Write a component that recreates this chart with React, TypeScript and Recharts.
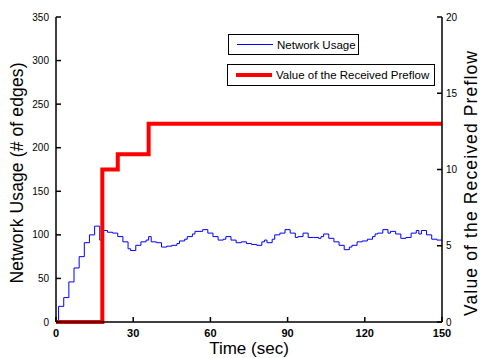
import React from "react";
import {
  LineChart,
  Line,
  XAxis,
  YAxis,
  Legend,
} from "recharts";

// time (sec) and network usage (# of edges), stepped
const usageTimes = [
  0, 1, 3, 5, 7, 9, 11, 13, 15, 17, 18, 20, 22, 24, 26, 28, 29, 31, 33, 35, 36,
  37, 39, 41, 43, 45, 47, 48, 50, 51, 53, 54, 57, 59, 61, 63, 65, 66, 68, 70,
  72, 74, 76, 78, 80, 81, 82, 84, 85, 87, 89, 91, 93, 94, 96, 98, 100, 102,
  103, 104, 106, 108, 110, 112, 114, 115, 117, 119, 121, 123, 124, 125, 127,
  129, 130, 132, 134, 136, 138, 140, 141, 142, 144, 146, 148, 150,
];
const usageValues = [
  0, 18, 28, 46, 62, 75, 91, 100, 110, 94, 105, 103, 102, 98, 92, 84, 82, 88,
  92, 94, 98, 92, 91, 86, 87, 88, 90, 93, 95, 98, 101, 104, 106, 102, 98, 94,
  95, 98, 94, 91, 92, 90, 89, 88, 92, 94, 91, 95, 100, 102, 106, 102, 97, 98,
  102, 97, 97, 96, 98, 101, 96, 92, 88, 83, 86, 88, 92, 93, 95, 98, 101, 102,
  106, 102, 104, 101, 96, 97, 102, 105, 101, 105, 100, 95, 94, 94,
];

// received preflow value
const preflowTimes = [0, 18, 24, 36, 150];
const preflowValues = [0, 10, 11, 13, 13];

const timeTicks = [0, 30, 60, 90, 120, 150];
const usageTicks = [0, 50, 100, 150, 200, 250, 300, 350];
const preflowTicks = [0, 5, 10, 15, 20];

const usageData = usageTimes.map((t, i) => ({ t, v: usageValues[i] }));
const preflowData = preflowTimes.map((t, i) => ({ t, v: preflowValues[i] }));

const FONT = "'Liberation Sans', Arial, Helvetica, sans-serif";

const LeftLabel = ({ viewBox }: any) => {
  const cx = viewBox.x + 22.5;
  const cy = viewBox.y + viewBox.height / 2 + 3.5;
  return (
    <text
      x={cx}
      y={cy}
      transform={`rotate(-90, ${cx}, ${cy})`}
      textAnchor="middle"
      fontSize={17.5}
      fontFamily={FONT}
      fill="#000"
      textLength={221}
    >
      Network Usage (# of edges)
    </text>
  );
};

const RightLabel = ({ viewBox }: any) => {
  const cx = viewBox.x + 34.5;
  const cy = viewBox.y + viewBox.height / 2 + 14;
  return (
    <text
      x={cx}
      y={cy}
      transform={`rotate(-90, ${cx}, ${cy})`}
      textAnchor="middle"
      fontSize={17.5}
      fontFamily={FONT}
      fill="#000"
      textLength={265}
    >
      Value of the Received Preflow
    </text>
  );
};

const BottomLabel = ({ viewBox }: any) => (
  <text
    x={viewBox.x + viewBox.width / 2}
    y={viewBox.y + 32}
    textAnchor="middle"
    fontSize={17}
    fontFamily={FONT}
    fill="#000"
  >
    Time (sec)
  </text>
);

// two separate boxed entries, MATLAB style
const BoxLegend = () => {
  const box: React.CSSProperties = {
    display: "flex",
    alignItems: "center",
    border: "1px solid #000",
    background: "#fff",
    fontSize: 11.5,
    fontFamily: FONT,
    color: "#000",
    boxSizing: "border-box",
    paddingLeft: 8,
    whiteSpace: "nowrap",
    lineHeight: "14px",
  };
  return (
    <div style={{ width: 220 }}>
      <div style={{ ...box, width: 131, height: 21, marginLeft: 1 }}>
        <span style={{ display: "inline-block", flex: "none", width: 36, height: 0, borderTop: "1px solid #0000ff", marginRight: 4 }} />
        Network Usage
      </div>
      <div style={{ ...box, width: 208, height: 22, marginTop: 9 }}>
        <span style={{ display: "inline-block", flex: "none", width: 36, height: 0, borderTop: "4px solid #ff0000", marginRight: 4 }} />
        Value of the Received Preflow
      </div>
    </div>
  );
};

export default function App() {
  return (
    <div style={{ position: "absolute", left: 0, top: 0, width: 480, height: 358, background: "#fff" }}>
      <LineChart width={480} height={358} margin={{ top: 17, right: 0, bottom: 0, left: 0 }}>
        <XAxis
          xAxisId="top"
          orientation="top"
          type="number"
          dataKey="t"
          domain={[0, 150]}
          ticks={timeTicks}
          height={0}
          tick={false}
          tickSize={-5}
          stroke="#000"
          strokeWidth={1.5}
        />
        <XAxis
          type="number"
          dataKey="t"
          domain={[0, 150]}
          ticks={timeTicks}
          height={36}
          tickSize={-5}
          tickMargin={12}
          stroke="#000"
          strokeWidth={1.5}
          tick={{ fill: "#000", fontSize: 11, fontWeight: "bold", fontFamily: FONT }}
          label={<BottomLabel />}
        />
        <YAxis
          yAxisId="left"
          domain={[0, 350]}
          ticks={usageTicks}
          width={56}
          tickSize={-5}
          tickMargin={12}
          stroke="#000"
          strokeWidth={1.5}
          tick={{ fill: "#000", fontSize: 10, fontFamily: FONT }}
          label={<LeftLabel />}
        />
        <YAxis
          yAxisId="mirror"
          orientation="right"
          domain={[0, 350]}
          ticks={usageTicks}
          width={0}
          tick={false}
          tickSize={-5}
          axisLine={false}
          stroke="#000"
        />
        <YAxis
          yAxisId="right"
          orientation="right"
          domain={[0, 20]}
          ticks={preflowTicks}
          width={38}
          tickSize={-5}
          tickMargin={9}
          stroke="#000"
          strokeWidth={1.5}
          tick={{ fill: "#000", fontSize: 10, fontFamily: FONT }}
          label={<RightLabel />}
        />
        <Legend
          layout="horizontal"
          verticalAlign="middle"
          content={<BoxLegend />}
          wrapperStyle={{ left: 227, top: 34, width: 220 }}
        />
        <Line
          yAxisId="left"
          data={usageData}
          dataKey="v"
          type="stepAfter"
          stroke="#0000ff"
          strokeWidth={1}
          dot={false}
          isAnimationActive={false}
        />
        <Line
          yAxisId="right"
          data={preflowData}
          dataKey="v"
          type="stepAfter"
          stroke="#ff0000"
          strokeWidth={4}
          dot={false}
          isAnimationActive={false}
        />
      </LineChart>
    </div>
  );
}
